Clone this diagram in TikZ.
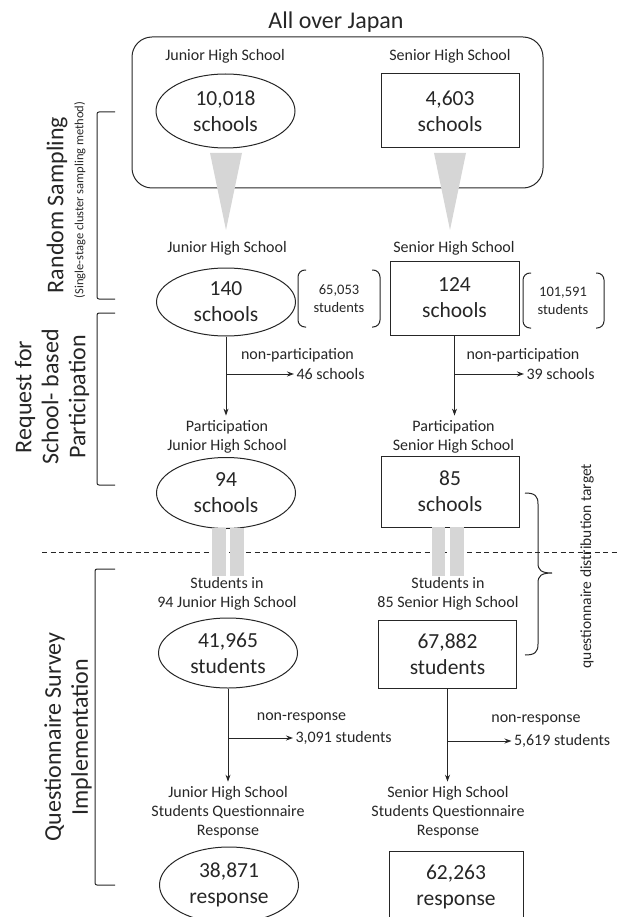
\documentclass[tikz,border=0pt]{standalone}
\usepackage{fontspec}
\setmainfont{Carlito}
\usetikzlibrary{shapes.geometric,arrows.meta}

\begin{document}
\begin{tikzpicture}[x=1pt,y=-1pt,line width=1pt,color=black!85,
  oval/.style={draw,ellipse,inner sep=0pt,minimum width=139pt,align=center,font=\fontsize{21.5}{26}\selectfont},
  card/.style={draw,rectangle,inner sep=0pt,minimum width=138pt,align=center,font=\fontsize{21.5}{26}\selectfont},
  lab/.style={inner sep=4pt,align=center,font=\fontsize{16}{19}\selectfont},
  drop/.style={inner sep=2pt,anchor=west,font=\fontsize{16}{19}\selectfont},
  small/.style={inner sep=0pt,align=center,font=\fontsize{14.5}{18}\selectfont},
  side/.style={rotate=90,inner sep=0pt,align=center,font=\fontsize{24}{27}\selectfont},
  flow/.style={-{Stealth[length=7pt,width=5pt]}},
  funnel/.style={fill=black!16,draw=none},
  paren/.style={rounded corners=7pt},
  bracket/.style={rounded corners=2pt}]
  \useasboundingbox (0,0) rectangle (619,917);
  \clip (0,0) rectangle (619,917);
  \node (title) at (336,22) [inner sep=0pt,font=\fontsize{24}{28}\selectfont] {All over Japan};
  \node (japan) at (337.5,112.5) [draw,rounded corners=20pt,minimum width=411pt,minimum height=151pt] {};
  \node (jhLabA) at (225,56) [lab] {Junior High School};
  \node (shLabA) at (450,56) [lab] {Senior High School};
  \node (jhAll) at (225.5,111) [oval,minimum height=74pt] {10,018\\schools};
  \node (shAll) at (450,111) [card,minimum height=74pt] {4,603\\schools};
  \fill[funnel] (210,153) -- (242,153) -- (226,230) -- cycle;
  \fill[funnel] (434,153) -- (466,153) -- (450,230) -- cycle;

  \node (jhLabB) at (227,248) [lab] {Junior High School};
  \node (shLabB) at (454,248) [lab] {Senior High School};
  \node (jhSample) at (226,302) [oval,minimum height=68pt] {140\\schools};
  \node (shSample) at (454.5,298) [card,minimum width=129pt,minimum height=74pt] {124\\schools};
  \node (jhPupils) at (339,299) [small] {65,053\\students};
  \node (shPupils) at (563,301) [small] {101,591\\students};
  \draw[paren] (306,270) -- (298,270) -- (298,327) -- (306,327);
  \draw[paren] (372,270) -- (380,270) -- (380,327) -- (372,327);
  \draw[paren] (531,273) -- (523,273) -- (523,328) -- (531,328);
  \draw[paren] (596,273) -- (604,273) -- (604,328) -- (596,328);

  \node (jhLabC) at (227,436.5) [lab] {Participation\\Junior High School};
  \node (shLabC) at (453.5,436.5) [lab] {Participation\\Senior High School};
  \draw[flow] (jhSample.south) -- (jhSample.south |- jhLabC.north);
  \draw[flow] (shSample.south) -- (shSample.south |- shLabC.north);
  \node (jhNo) at (297.5,355) [lab] {non-participation};
  \node (shNo) at (523,355) [lab] {non-participation};
  \node (jhDrop) at (294,374) [drop] {46 schools};
  \node (shDrop) at (524,374) [drop] {39 schools};
  \draw[flow] (jhSample.south |- jhDrop) -- (jhDrop.west);
  \draw[flow] (shSample.south |- shDrop) -- (shDrop.west);

  \node (jhJoin) at (226,493) [oval,minimum height=71pt] {94\\schools};
  \node (shJoin) at (450,491.5) [card,minimum height=71pt] {85\\schools};
  \draw[dash pattern=on 5pt off 3.5pt] (42,552) -- (619,552);
  \fill[funnel] (212,528) rectangle (226,576);
  \fill[funnel] (230,528) rectangle (244,576);
  \fill[funnel] (432,527) rectangle (445,576);
  \fill[funnel] (450,527) rectangle (464,576);

  \node (jhLabD) at (227,594) [lab] {Students in\\94 Junior High School};
  \node (shLabD) at (448,594) [lab] {Students in\\85 Senior High School};
  \node (jhPupilsIn) at (228,653) [oval,minimum height=70pt] {41,965\\students};
  \node (shPupilsIn) at (447.5,654) [card,minimum height=68pt] {67,882\\students};

  \node (jhLabE) at (228,812) [lab] {Junior High School\\Students Questionnaire\\Response};
  \node (shLabE) at (448,812) [lab] {Senior High School\\Students Questionnaire\\Response};
  \draw[flow] (jhPupilsIn.south) -- (jhPupilsIn.south |- jhLabE.north);
  \draw[flow] (shPupilsIn.south) -- (shPupilsIn.south |- shLabE.north);
  \node (jhSilent) at (301.5,718) [lab] {non-response};
  \node (shSilent) at (536,720) [lab] {non-response};
  \node (jhLost) at (293,738) [drop] {3,091 students};
  \node (shLost) at (511.5,741) [drop] {5,619 students};
  \draw[flow] (jhPupilsIn.south |- jhLost) -- (jhLost.west);
  \draw[flow] (shPupilsIn.south |- shLost) -- (shLost.west);

  \node (jhReply) at (229,885) [oval,minimum height=76pt] {38,871\\response};
  \node (shReply) at (456,887) [card,minimum width=134pt,minimum height=72pt] {62,263\\response};

  \draw[bracket] (115,112) -- (97,112) -- (97,299) -- (115,299);
  \draw[bracket] (115,313) -- (97,313) -- (97,485) -- (115,485);
  \draw[bracket] (115,569) -- (95,569) -- (95,885) -- (115,885);
  \node (sampling) at (57,205) [side] {Random Sampling};
  \node (method) at (80,200) [rotate=90,inner sep=0pt,font=\fontsize{12.5}{15}\selectfont] {(Single-stage cluster sampling method)};
  \node (request) at (52,397) [side] {Request for\\School- based\\Participation};
  \node (survey) at (68,737) [side] {Questionnaire Survey\\Implementation};

  \draw (525,493) .. controls (535,493) and (538,496) .. (538,504) -- (538,563)
    .. controls (538,570) and (541,573) .. (552,573)
    .. controls (541,573) and (538,576) .. (538,583) -- (538,644)
    .. controls (538,652) and (535,655) .. (525,655);
  \node (target) at (587,566) [rotate=90,inner sep=0pt,font=\fontsize{15.5}{18}\selectfont] {questionnaire distribution target};
\end{tikzpicture}
\end{document}
